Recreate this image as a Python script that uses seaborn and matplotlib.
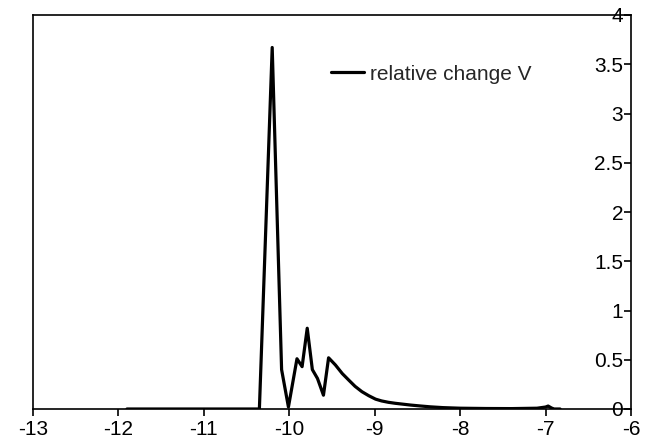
import matplotlib
matplotlib.use("Agg")
import matplotlib.pyplot as plt
import seaborn as sns
import pandas as pd

x_vals = [-11.90, -11.50, -11.00, -10.60, -10.35, -10.20, -10.09, -10.01, -9.91, -9.85,
          -9.79, -9.73, -9.67, -9.60, -9.54, -9.46, -9.38, -9.30, -9.23, -9.15,
          -9.07, -8.99, -8.92, -8.84, -8.76, -8.68, -8.58, -8.47, -8.35, -8.20,
          -8.00, -7.70, -7.40, -7.10, -7.00, -6.97, -6.93, -6.90, -6.83]
y_vals = [0.0, 0.0, 0.0, 0.0, 0.0, 3.67, 0.40, 0.02, 0.51, 0.43,
          0.82, 0.40, 0.31, 0.14, 0.52, 0.447, 0.36, 0.29, 0.23, 0.176,
          0.135, 0.10, 0.082, 0.068, 0.058, 0.05, 0.04, 0.031, 0.022, 0.014,
          0.008, 0.005, 0.004, 0.008, 0.02, 0.03, 0.01, 0.0, 0.0]
series_name = "relative change V"
x_ticks = [-13, -12, -11, -10, -9, -8, -7, -6]
y_ticks = [0, 0.5, 1, 1.5, 2, 2.5, 3, 3.5, 4]
y_tick_labels = ["0", "0.5", "1", "1.5", "2", "2.5", "3", "3.5", "4"]

df = pd.DataFrame({"x": x_vals, "y": y_vals, "series": series_name})

sns.set_style("white")
plt.rcParams["font.family"] = ["Liberation Sans", "DejaVu Sans"]
plt.rcParams["font.size"] = 15

fig = plt.figure(figsize=(6.51, 4.43), dpi=100)
ax = fig.add_axes([33 / 651, 1 - 409 / 443, (631 - 33) / 651, (409 - 15) / 443])

sns.lineplot(data=df, x="x", y="y", hue="series", palette=["black"],
             linewidth=2.3, ax=ax, sort=False)

ax.set_xlim(-13, -6)
ax.set_ylim(0, 4)
ax.set_xticks(x_ticks)
ax.set_xticklabels([str(t) for t in x_ticks])
ax.set_yticks(y_ticks)
ax.set_yticklabels(y_tick_labels)
ax.set_xlabel("")
ax.set_ylabel("")

for s in ax.spines.values():
    s.set_color("black")
    s.set_linewidth(1.2)

ax.tick_params(axis="x", direction="out", length=5, width=1.2, colors="black",
               labelsize=15, pad=3, bottom=True)
ax.yaxis.set_ticks_position("right")
ax.tick_params(axis="y", direction="in", length=5, width=1.2, colors="black",
               labelsize=15, pad=-5.5, right=True, left=False)
for lbl in ax.get_yticklabels():
    lbl.set_horizontalalignment("right")

leg = ax.legend(loc="center left", bbox_to_anchor=(0.498, 0.85), frameon=False,
                borderpad=0, borderaxespad=0, handlelength=1.57,
                handletextpad=0.3, fontsize=15)

fig.savefig("out.png", dpi=100)
